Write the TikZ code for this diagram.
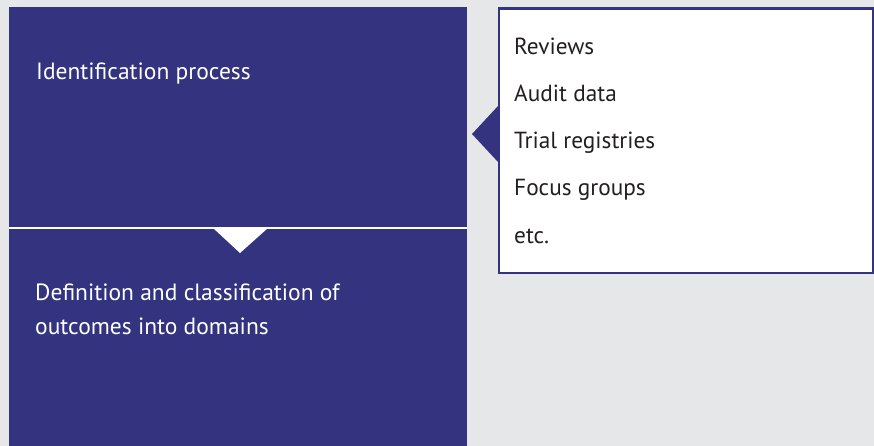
\documentclass[tikz,border=0pt]{standalone}
\usepackage{fontspec}
\setmainfont{PT Sans}
\definecolor{bgray}{RGB}{230,231,232}
\definecolor{dblue}{RGB}{51,51,128}
\definecolor{dtext}{RGB}{35,31,32}
\begin{document}
\begin{tikzpicture}[x=1pt,y=-1pt,
  boxtext/.style={anchor=base west,inner sep=0pt,text=white,font=\fontsize{23.5}{34}\selectfont},
  listtext/.style={anchor=base west,inner sep=0pt,text=dtext,font=\fontsize{23.3}{25}\selectfont}]
\useasboundingbox (0,0) rectangle (874,446);
\fill[bgray] (0,0) rectangle (874,446);
% left stacked boxes
\fill[dblue] (9,7) rectangle (467,446);
\draw[white,line width=2.5pt] (9,228) -- (467,228);
\fill[white] (213,228) -- (268,228) -- (240,253) -- cycle;
% right list box
\node[draw=dblue,line width=2.2pt,fill=white,minimum width=374pt,minimum height=264pt,inner sep=0pt,anchor=north west] (list) at (498,7.5) {};
\fill[dblue] (472,134) -- (498,106) -- (498,162) -- cycle;
% texts
\node[boxtext] (t1) at (36,80) {Identification process};
\node[boxtext] (t2a) at (35,300) {Definition and classification of};
\node[boxtext] (t2b) at (35,334) {outcomes into domains};
\node[listtext] (l1) at (514,55) {Reviews};
\node[listtext] (l2) at (514,102) {Audit data};
\node[listtext] (l3) at (514,149) {Trial registries};
\node[listtext] (l4) at (514,196) {Focus groups};
\node[listtext] (l5) at (514,243) {etc.};
\end{tikzpicture}
\end{document}
